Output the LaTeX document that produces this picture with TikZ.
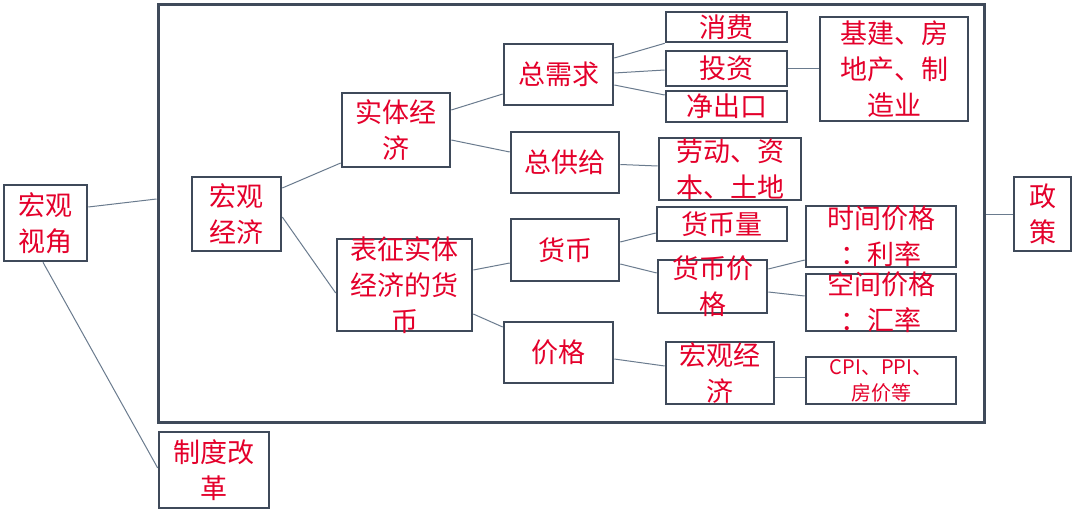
\documentclass[tikz,border=0pt]{standalone}
\usepackage{fontspec}
\setmainfont{Noto Sans CJK SC}
\definecolor{boxc}{HTML}{3F4A5A}
\definecolor{linec}{HTML}{6A7B8E}
\definecolor{txtc}{HTML}{E4002B}
\tikzset{
  box/.style={draw=boxc, line width=2.6pt, fill=white, inner sep=0pt},
  frm/.style={draw=boxc, line width=3pt, inner sep=0pt},
  txt/.style={text=txtc, align=center, inner sep=0pt, font=\fontsize{27}{36}\selectfont},
  smalltxt/.style={text=txtc, align=center, inner sep=0pt, font=\fontsize{20}{26}\selectfont},
  conn/.style={draw=linec, line width=1pt}
}
\newcommand\mybox[6][txt]{%
  \node[box, minimum width=#4pt, minimum height=#5pt] (#2) at #3 {};
  \node[#1] (#2-t) at (#2) {#6};}
\begin{document}
\begin{tikzpicture}[x=1pt,y=-1pt]
\useasboundingbox[fill=white] (0,0) rectangle (1080,511);
\node[frm, minimum width=826pt, minimum height=417pt] (frame) at (571,213.5) {};

\mybox{jiao}{(45.5,223)}{83}{76}{宏观\\视角}
\mybox{hgjj}{(236.5,214)}{89}{74}{宏观\\经济}
\mybox{stjj}{(396,130)}{108}{74}{实体经\\济}
\mybox{zxq}{(558.5,74.5)}{109}{61}{总需求}
\mybox{zgj}{(565,162.5)}{108}{61}{总供给}
\mybox{xf}{(726.5,27)}{121}{30}{消费}
\mybox{tz}{(726.5,68.5)}{121}{35}{投资}
\mybox{jck}{(726.5,106.5)}{121}{31}{净出口}
\mybox{jj}{(894,69)}{148}{104}{基建、房\\地产、制\\造业}
\mybox{ld}{(730,169)}{142}{62}{劳动、资\\本、土地}
\mybox{bz}{(404.5,285)}{135}{92}{表征实体\\经济的货\\币}
\mybox{hb}{(565,250)}{108}{62}{货币}
\mybox{jg}{(558.5,352.5)}{109}{61}{价格}
\mybox{hbl}{(722,224)}{130}{34}{货币量}
\mybox{hbjg}{(712.5,286.5)}{109}{53}{货币价\\格}
\mybox{sj}{(881,236.5)}{150}{61}{时间价格\\：利率}
\mybox{kj}{(881,302.5)}{150}{57}{空间价格\\：汇率}
\mybox{hgjjb}{(720,373)}{108}{62}{宏观经\\济}
\mybox[smalltxt]{cpi}{(881,380.5)}{150}{47}{CPI、PPI、\\房价等}
\mybox{zdgg}{(214,470)}{110}{76}{制度改\\革}
\mybox{zc}{(1042.5,214)}{57}{74}{政\\策}

\draw[conn] ([yshift=16pt]jiao.east) -- ([yshift=14.5pt]frame.west);
\draw[conn] ([xshift=-2.5pt]jiao.south) -- ([yshift=2pt]zdgg.west);
\draw[conn] (zc.west) -- (zc.west -| frame.east);
\draw[conn] ([yshift=26pt]hgjj.east) -- ([yshift=-33pt]stjj.west);
\draw[conn] ([yshift=-3pt]hgjj.east) -- ([yshift=-8pt]bz.west);
\draw[conn] ([yshift=20pt]stjj.east) -- ([yshift=-19.5pt]zxq.west);
\draw[conn] ([yshift=-10pt]stjj.east) -- ([yshift=10.5pt]zgj.west);
\draw[conn] ([yshift=16.5pt]zxq.east) -- (xf.south west);
\draw[conn] ([yshift=1.5pt]zxq.east) -- ([yshift=-1.5pt]tz.west);
\draw[conn] ([yshift=-10.5pt]zxq.east) -- ([yshift=11.5pt]jck.west);
\draw[conn] (tz.east) -- (tz.east -| jj.west);
\draw[conn] ([yshift=-2pt]zgj.east) -- ([yshift=3pt]ld.west);
\draw[conn] ([yshift=15pt]bz.east) -- ([yshift=-13pt]hb.west);
\draw[conn] ([yshift=-29pt]bz.east) -- ([yshift=25.5pt]jg.west);
\draw[conn] ([yshift=8pt]hb.east) -- ([yshift=-9pt]hbl.west);
\draw[conn] ([yshift=-14pt]hb.east) -- ([yshift=13.5pt]hbjg.west);
\draw[conn] ([yshift=-6.5pt]jg.east) -- ([yshift=7pt]hgjjb.west);
\draw[conn] ([yshift=17.5pt]hbjg.east) -- ([yshift=-23.5pt]sj.west);
\draw[conn] ([yshift=-5.5pt]hbjg.east) -- ([yshift=6.5pt]kj.west);
\draw[conn] ([yshift=-4pt]hgjjb.east) -- ([yshift=3.5pt]cpi.west);
\end{tikzpicture}
\end{document}
